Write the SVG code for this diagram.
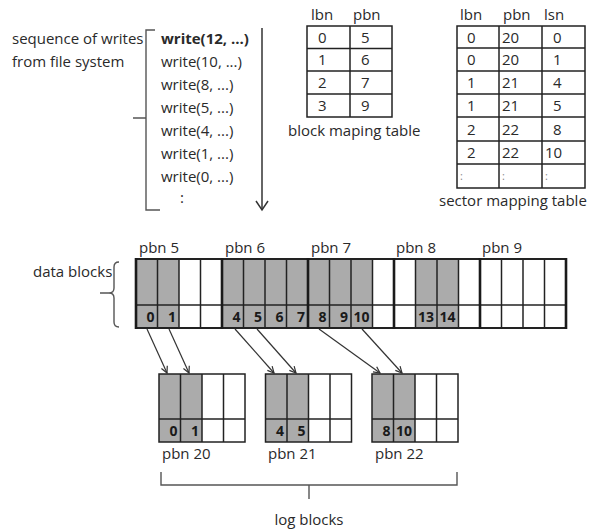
<svg xmlns="http://www.w3.org/2000/svg" width="593" height="530" viewBox="0 0 593 530">
<style>
text{font-family:"Open Sans","Noto Sans","Liberation Sans",sans-serif;font-size:15px;fill:#2a2a2a}
.b{font-weight:bold}
.v{font-size:15px}
.n{font-weight:bold;font-size:14px;text-anchor:end;fill:#1a1a1a}
.ln{stroke:#222;stroke-width:1.5;fill:none}
.thk{stroke:#1a1a1a;stroke-width:2.6;fill:none}
.sh{fill:#ababab}
.br{stroke:#555;stroke-width:1.4;fill:none}
.ar{stroke:#333;stroke-width:1.2;fill:none;marker-end:url(#ah)}
</style>
<defs>
<marker id="ah" viewBox="0 0 10 10" refX="9" refY="5" markerWidth="8" markerHeight="8" orient="auto" markerUnits="userSpaceOnUse">
<path d="M1,1 L9,5 L1,9" fill="none" stroke="#333" stroke-width="1.5"/>
</marker>
</defs>
<rect width="593" height="530" fill="#fff"/>

<g id="writes">
<text x="12" y="44">sequence of writes</text>
<text x="12" y="67">from file system</text>
<path class="br" d="M155,30 H146 V118 M146,118 H133 M146,118 V210 H160"/>
<text x="161" y="44" class="b">write(12, ...)</text>
<text x="161" y="67">write(10, ...)</text>
<text x="161" y="90">write(8, ...)</text>
<text x="161" y="113">write(5, ...)</text>
<text x="161" y="136">write(4, ...)</text>
<text x="161" y="159">write(1, ...)</text>
<text x="161" y="182">write(0, ...)</text>
<text x="180" y="203">:</text>
<line x1="262" y1="28" x2="262" y2="209" stroke="#333" stroke-width="1.5"/>
<path d="M256,201 L262,210 L268,201" fill="none" stroke="#333" stroke-width="1.5"/>
</g>

<g id="block-mapping-table">
<text x="311" y="20">lbn</text>
<text x="353" y="20">pbn</text>
<rect class="ln" x="307" y="26" width="85" height="91"/>
<line class="ln" x1="350" y1="26" x2="350" y2="117"/>
<line class="ln" x1="307" y1="48.5" x2="392" y2="48.5"/>
<line class="ln" x1="307" y1="71" x2="392" y2="71"/>
<line class="ln" x1="307" y1="94" x2="392" y2="94"/>
<text class="v" x="318" y="43">0</text><text class="v" x="361" y="43">5</text>
<text class="v" x="318" y="65">1</text><text class="v" x="361" y="65">6</text>
<text class="v" x="318" y="88">2</text><text class="v" x="361" y="88">7</text>
<text class="v" x="318" y="111">3</text><text class="v" x="361" y="111">9</text>
<text x="288" y="136">block maping table</text>
</g>

<g id="sector-mapping-table">
<text x="460" y="20">lbn</text>
<text x="503" y="20">pbn</text>
<text x="544" y="20">lsn</text>
<rect class="ln" x="457" y="26" width="128" height="162"/>
<line class="ln" x1="499" y1="26" x2="499" y2="188"/>
<line class="ln" x1="542" y1="26" x2="542" y2="188"/>
<line class="ln" x1="457" y1="48" x2="585" y2="48"/>
<line class="ln" x1="457" y1="71" x2="585" y2="71"/>
<line class="ln" x1="457" y1="94" x2="585" y2="94"/>
<line class="ln" x1="457" y1="117" x2="585" y2="117"/>
<line class="ln" x1="457" y1="141" x2="585" y2="141"/>
<line class="ln" x1="457" y1="164" x2="585" y2="164"/>
<text class="v" x="467" y="43">0</text><text class="v" x="502" y="43">20</text><text class="v" x="553" y="43">0</text>
<text class="v" x="467" y="65">0</text><text class="v" x="502" y="65">20</text><text class="v" x="553" y="65">1</text>
<text class="v" x="467" y="88">1</text><text class="v" x="502" y="88">21</text><text class="v" x="553" y="88">4</text>
<text class="v" x="467" y="111">1</text><text class="v" x="502" y="111">21</text><text class="v" x="553" y="111">5</text>
<text class="v" x="467" y="135">2</text><text class="v" x="502" y="135">22</text><text class="v" x="553" y="135">8</text>
<text class="v" x="467" y="158">2</text><text class="v" x="502" y="158">22</text><text class="v" x="545" y="158">10</text>
<text x="460" y="180" style="font-size:11px;fill:#888">:</text>
<text x="502" y="180" style="font-size:11px;fill:#888">:</text>
<text x="545" y="180" style="font-size:11px;fill:#888">:</text>
<text x="439" y="206">sector mapping table</text>
</g>

<g id="data-blocks">
<text x="33" y="277">data blocks</text>
<path class="br" d="M119,262 Q114,262 114,267 V288 Q114,293 109,293 H100 M109,293 Q114,293 114,298 V322 Q114,327 119,327"/>
<text x="139" y="253">pbn 5</text>
<text x="225" y="253">pbn 6</text>
<text x="311" y="253">pbn 7</text>
<text x="396" y="253">pbn 8</text>
<text x="482" y="253">pbn 9</text>
<rect class="sh" x="136" y="259" width="43" height="69"/>
<rect class="sh" x="222" y="259" width="150.5" height="69"/>
<rect class="sh" x="415.5" y="259" width="43" height="69"/>
<g class="ln">
<line x1="157.5" y1="259" x2="157.5" y2="328"/>
<line x1="179" y1="259" x2="179" y2="328"/>
<line x1="200.5" y1="259" x2="200.5" y2="328"/>
<line x1="243.5" y1="259" x2="243.5" y2="328"/>
<line x1="265" y1="259" x2="265" y2="328"/>
<line x1="286.5" y1="259" x2="286.5" y2="328"/>
<line x1="329.5" y1="259" x2="329.5" y2="328"/>
<line x1="351" y1="259" x2="351" y2="328"/>
<line x1="372.5" y1="259" x2="372.5" y2="328"/>
<line x1="415.5" y1="259" x2="415.5" y2="328"/>
<line x1="437" y1="259" x2="437" y2="328"/>
<line x1="458.5" y1="259" x2="458.5" y2="328"/>
<line x1="501.5" y1="259" x2="501.5" y2="328"/>
<line x1="523" y1="259" x2="523" y2="328"/>
<line x1="544.5" y1="259" x2="544.5" y2="328"/>
<line x1="136" y1="305" x2="566" y2="305"/>
</g>
<rect class="ln" x="136" y="259" width="430" height="69" style="stroke-width:2"/>
<g class="thk">
<line x1="136" y1="258" x2="136" y2="329"/>
<line x1="222" y1="258" x2="222" y2="329"/>
<line x1="308" y1="258" x2="308" y2="329"/>
<line x1="394" y1="258" x2="394" y2="329"/>
<line x1="480" y1="258" x2="480" y2="329"/>
<line x1="566" y1="258" x2="566" y2="329"/>
</g>
<text class="n" x="154.5" y="322">0</text>
<text class="n" x="176" y="322">1</text>
<text class="n" x="240.5" y="322">4</text>
<text class="n" x="262" y="322">5</text>
<text class="n" x="283.5" y="322">6</text>
<text class="n" x="305" y="322">7</text>
<text class="n" x="326.5" y="322">8</text>
<text class="n" x="348" y="322">9</text>
<text class="n" x="369.5" y="322">10</text>
<text class="n" x="434" y="322">13</text>
<text class="n" x="455.5" y="322">14</text>
</g>

<g id="log-block-20">
<rect class="sh" x="159" y="374" width="43" height="68"/>
<rect class="ln" x="159" y="374" width="86" height="68"/>
<line class="ln" x1="180.5" y1="374" x2="180.5" y2="442"/>
<line class="ln" x1="202" y1="374" x2="202" y2="442"/>
<line class="ln" x1="223.5" y1="374" x2="223.5" y2="442"/>
<line class="ln" x1="159" y1="419" x2="245" y2="419"/>
<text class="n" x="177.5" y="436">0</text>
<text class="n" x="199" y="436">1</text>
<text x="162" y="459">pbn 20</text>
</g>

<g id="log-block-21">
<rect class="sh" x="265.5" y="374" width="43" height="68"/>
<rect class="ln" x="265.5" y="374" width="86" height="68"/>
<line class="ln" x1="287" y1="374" x2="287" y2="442"/>
<line class="ln" x1="308.5" y1="374" x2="308.5" y2="442"/>
<line class="ln" x1="330" y1="374" x2="330" y2="442"/>
<line class="ln" x1="265.5" y1="419" x2="351.5" y2="419"/>
<text class="n" x="284" y="436">4</text>
<text class="n" x="305.5" y="436">5</text>
<text x="268" y="459">pbn 21</text>
</g>

<g id="log-block-22">
<rect class="sh" x="372" y="374" width="43" height="68"/>
<rect class="ln" x="372" y="374" width="86" height="68"/>
<line class="ln" x1="393.5" y1="374" x2="393.5" y2="442"/>
<line class="ln" x1="415" y1="374" x2="415" y2="442"/>
<line class="ln" x1="436.5" y1="374" x2="436.5" y2="442"/>
<line class="ln" x1="372" y1="419" x2="458" y2="419"/>
<text class="n" x="390.5" y="436">8</text>
<text class="n" x="412" y="436">10</text>
<text x="375" y="459">pbn 22</text>
</g>

<g id="log-blocks-label">
<path class="br" d="M161,472 V485 H457 V472 M309,485 V499"/>
<text x="309" y="525" text-anchor="middle">log blocks</text>
</g>

<g id="connectors">
<line class="ar" x1="147" y1="329" x2="167" y2="373"/>
<line class="ar" x1="169" y1="329" x2="189" y2="373"/>
<line class="ar" x1="235" y1="329" x2="274" y2="373"/>
<line class="ar" x1="257" y1="329" x2="296" y2="373"/>
<line class="ar" x1="319" y1="329" x2="380" y2="373"/>
<line class="ar" x1="362" y1="329" x2="402" y2="373"/>
</g>
</svg>
